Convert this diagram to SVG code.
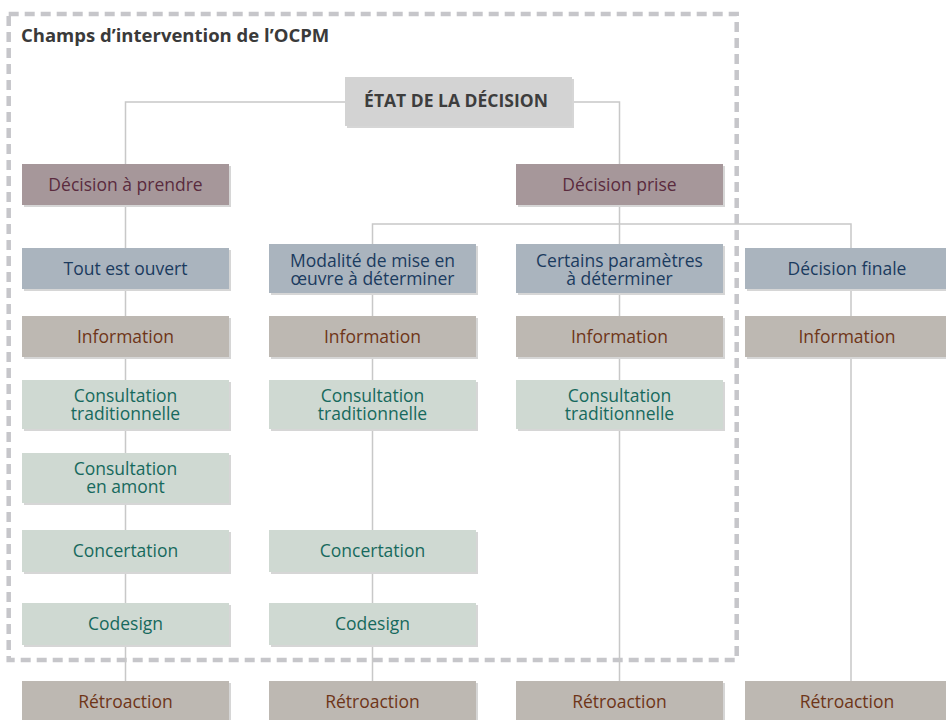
<svg xmlns="http://www.w3.org/2000/svg" width="946" height="720" viewBox="0 0 946 720">
<style>
.t{font-family:"Open Sans","Liberation Sans",sans-serif;font-size:17.5px;text-anchor:middle}
.sh{fill:#d6d6d6}
.dec rect.b{fill:#a6979a}.dec text{fill:#5a2b3e}
.blu rect.b{fill:#aab4be}.blu text{fill:#1b3b5e}
.inf rect.b{fill:#bdb8b2}.inf text{fill:#6e3518}
.grn rect.b{fill:#cfd9d2}.grn text{fill:#17695d}
.conn{fill:none;stroke:#c8c8c8;stroke-width:1.5}
</style>
<rect x="8.7" y="14" width="728" height="646" fill="none" stroke="#c6c6ca" stroke-width="4.5" stroke-dasharray="10 6"/>
<text x="21" y="42.3" font-family="'Open Sans','Liberation Sans',sans-serif" font-size="18.5" font-weight="bold" fill="#3a3a3a">Champs d’intervention de l’OCPM</text>
<g id="connectors" class="conn">
<path d="M125.5,681V102H619.5V681"/>
<path d="M372.5,681V224H851V681"/>
</g>
<g id="etat"><rect class="sh" x="347" y="79" width="227" height="49"/><rect x="345" y="77" width="227" height="49" fill="#d3d3d3"/><text class="t" x="456" y="107" font-size="20.5" font-weight="bold" fill="#3d3d3d">ÉTAT DE LA DÉCISION</text></g>

<g id="c1-decision" class="dec"><rect class="sh" x="24" y="166" width="207" height="41"/><rect class="b" x="22" y="164" width="207" height="41"/><text class="t" x="125.5" y="190.5">Décision à prendre</text></g>
<g id="c1-ouvert" class="blu"><rect class="sh" x="24" y="250" width="207" height="41"/><rect class="b" x="22" y="248" width="207" height="41"/><text class="t" x="125.5" y="274.5">Tout est ouvert</text></g>
<g id="c1-info" class="inf"><rect class="sh" x="24" y="318" width="207" height="41"/><rect class="b" x="22" y="316" width="207" height="41"/><text class="t" x="125.5" y="342.5">Information</text></g>
<g id="c1-ctrad" class="grn"><rect class="sh" x="24" y="382" width="207" height="49"/><rect class="b" x="22" y="380" width="207" height="49"/><text class="t" x="125.5" y="401.5">Consultation</text><text class="t" x="125.5" y="419.5">traditionnelle</text></g>
<g id="c1-camont" class="grn"><rect class="sh" x="24" y="455" width="207" height="50"/><rect class="b" x="22" y="453" width="207" height="50"/><text class="t" x="125.5" y="475">Consultation</text><text class="t" x="125.5" y="493">en amont</text></g>
<g id="c1-concert" class="grn"><rect class="sh" x="24" y="532" width="207" height="42"/><rect class="b" x="22" y="530" width="207" height="42"/><text class="t" x="125.5" y="557">Concertation</text></g>
<g id="c1-codesign" class="grn"><rect class="sh" x="24" y="605" width="207" height="42"/><rect class="b" x="22" y="603" width="207" height="42"/><text class="t" x="125.5" y="630">Codesign</text></g>
<g id="c1-retro" class="inf"><rect class="sh" x="24" y="683" width="207" height="41"/><rect class="b" x="22" y="681" width="207" height="41"/><text class="t" x="125.5" y="707.5">Rétroaction</text></g>

<g id="c2-modalite" class="blu"><rect class="sh" x="271" y="246" width="207" height="49"/><rect class="b" x="269" y="244" width="207" height="49"/><text class="t" x="372.5" y="266.5">Modalité de mise en</text><text class="t" x="372.5" y="285">œuvre à déterminer</text></g>
<g id="c2-info" class="inf"><rect class="sh" x="271" y="318" width="207" height="41"/><rect class="b" x="269" y="316" width="207" height="41"/><text class="t" x="372.5" y="342.5">Information</text></g>
<g id="c2-ctrad" class="grn"><rect class="sh" x="271" y="382" width="207" height="49"/><rect class="b" x="269" y="380" width="207" height="49"/><text class="t" x="372.5" y="401.5">Consultation</text><text class="t" x="372.5" y="419.5">traditionnelle</text></g>
<g id="c2-concert" class="grn"><rect class="sh" x="271" y="532" width="207" height="42"/><rect class="b" x="269" y="530" width="207" height="42"/><text class="t" x="372.5" y="557">Concertation</text></g>
<g id="c2-codesign" class="grn"><rect class="sh" x="271" y="605" width="207" height="42"/><rect class="b" x="269" y="603" width="207" height="42"/><text class="t" x="372.5" y="630">Codesign</text></g>
<g id="c2-retro" class="inf"><rect class="sh" x="271" y="683" width="207" height="41"/><rect class="b" x="269" y="681" width="207" height="41"/><text class="t" x="372.5" y="707.5">Rétroaction</text></g>

<g id="c3-decision" class="dec"><rect class="sh" x="518" y="166" width="207" height="41"/><rect class="b" x="516" y="164" width="207" height="41"/><text class="t" x="619.5" y="190.5">Décision prise</text></g>
<g id="c3-certains" class="blu"><rect class="sh" x="518" y="246" width="207" height="49"/><rect class="b" x="516" y="244" width="207" height="49"/><text class="t" x="619.5" y="266.5">Certains paramètres</text><text class="t" x="619.5" y="285">à déterminer</text></g>
<g id="c3-info" class="inf"><rect class="sh" x="518" y="318" width="207" height="41"/><rect class="b" x="516" y="316" width="207" height="41"/><text class="t" x="619.5" y="342.5">Information</text></g>
<g id="c3-ctrad" class="grn"><rect class="sh" x="518" y="382" width="207" height="49"/><rect class="b" x="516" y="380" width="207" height="49"/><text class="t" x="619.5" y="401.5">Consultation</text><text class="t" x="619.5" y="419.5">traditionnelle</text></g>
<g id="c3-retro" class="inf"><rect class="sh" x="518" y="683" width="207" height="41"/><rect class="b" x="516" y="681" width="207" height="41"/><text class="t" x="619.5" y="707.5">Rétroaction</text></g>

<g id="c4-finale" class="blu"><rect class="sh" x="747" y="250" width="207" height="41"/><rect class="b" x="745" y="248" width="207" height="41"/><text class="t" x="847" y="274.5">Décision finale</text></g>
<g id="c4-info" class="inf"><rect class="sh" x="747" y="318" width="207" height="41"/><rect class="b" x="745" y="316" width="207" height="41"/><text class="t" x="847" y="342.5">Information</text></g>
<g id="c4-retro" class="inf"><rect class="sh" x="747" y="683" width="207" height="41"/><rect class="b" x="745" y="681" width="207" height="41"/><text class="t" x="847" y="707.5">Rétroaction</text></g>
</svg>
